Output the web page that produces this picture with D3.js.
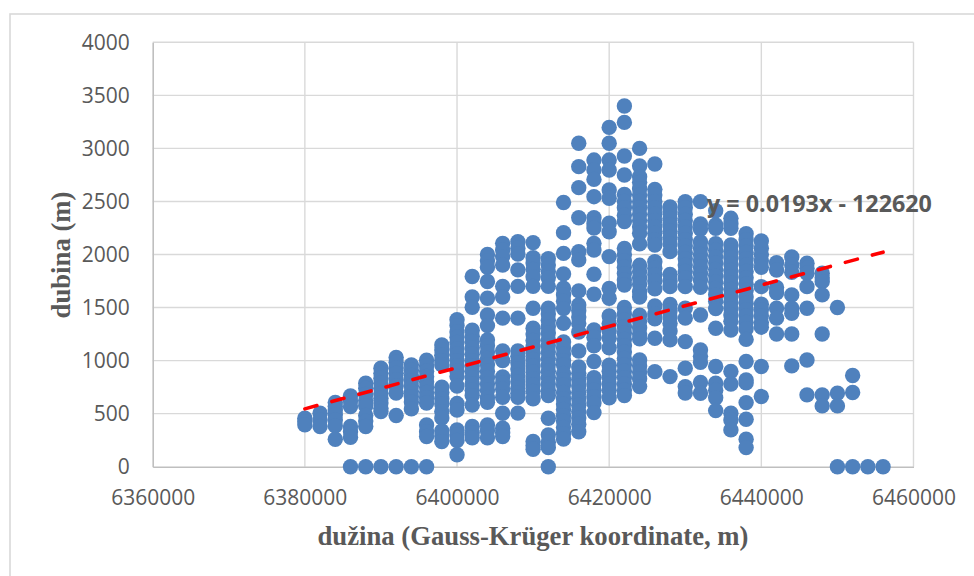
<!DOCTYPE html>
<html>

<head>
  <title>Dubina / duzina</title>
  <script src="https://cdn.jsdelivr.net/npm/d3@7"></script>
  <style>
    html, body { margin: 0; padding: 0; background: #fff; }
    svg { display: block; }
  </style>
</head>

<body>
  <script>
    // Size of page and plot area
    const w = 974;
    const h = 576;
    const plot = { left: 152.7, right: 913.5, top: 42.3, bottom: 466.7 };

    // Axis values
    const xTicks = [6360000, 6380000, 6400000, 6420000, 6440000, 6460000];
    const yTicks = [0, 500, 1000, 1500, 2000, 2500, 3000, 3500, 4000];

    // The wells stand in columns, every 2000 m along the x axis
    const duzina = [
      6380000, 6382000, 6384000, 6386000, 6388000, 6390000, 6392000, 6394000, 6396000, 6398000,
      6400000, 6402000, 6404000, 6406000, 6408000, 6410000, 6412000, 6414000, 6416000, 6418000,
      6420000, 6422000, 6424000, 6426000, 6428000, 6430000, 6432000, 6434000, 6436000, 6438000,
      6440000, 6442000, 6444000, 6446000, 6448000, 6450000, 6452000, 6454000, 6456000
    ];

    // Depths read per column, same order as duzina
    const dubina = [
      [457, 425, 394],
      [504, 441, 379],
      [605, 570, 535, 490, 440, 385, 259],
      [668, 620, 567, 380, 330, 278, 0],
      [787, 740, 680, 625, 575, 482, 430, 379, 0],
      [928, 880, 834, 787, 740, 690, 645, 600, 550, 520, 0],
      [1030, 985, 930, 880, 820, 760, 693, 482, 0],
      [960, 910, 860, 810, 760, 710, 660, 610, 545, 0],
      [1003, 950, 900, 850, 800, 750, 700, 650, 600, 394, 330, 284, 0],
      [1148, 1100, 1050, 1000, 960, 750, 700, 640, 590, 520, 460, 338, 290, 237],
      [1386, 1330, 1270, 1220, 1170, 1110, 1060, 1000, 950, 900, 850, 760, 595, 535, 347, 300, 247, 112],
      [1792, 1600, 1503, 1286, 1230, 1180, 1120, 1060, 1000, 950, 900, 840, 780, 720, 670, 580, 379, 320, 272],
      [2000, 1940, 1880, 1745, 1587, 1430, 1330, 1195, 1140, 1080, 1020, 960, 900, 840, 780, 720, 650, 608, 394, 340, 272],
      [2105, 2043, 1980, 1900, 1700, 1600, 1400, 1092, 1000, 846, 790, 730, 655, 504, 363, 320, 284],
      [2121, 2060, 2005, 1855, 1700, 1400, 1091, 1040, 980, 920, 860, 800, 740, 692, 655, 505],
      [2112, 1970, 1920, 1860, 1790, 1700, 1493, 1305, 1250, 1190, 1130, 1070, 1010, 950, 890, 830, 770, 710, 640, 237, 200, 165],
      [1961, 1900, 1840, 1780, 1700, 1493, 1440, 1380, 1320, 1260, 1200, 1140, 1080, 1020, 960, 900, 840, 780, 720, 670, 457, 300, 230, 180, 0],
      [2490, 2206, 2011, 1817, 1682, 1620, 1560, 1490, 1352, 1176, 1120, 1060, 1000, 960, 880, 820, 770, 700, 640, 590, 540, 480, 430, 370, 310, 260],
      [3048, 2828, 2630, 2347, 2027, 1949, 1657, 1525, 1470, 1410, 1350, 1270, 1091, 940, 880, 820, 760, 700, 640, 580, 520, 460, 400, 330],
      [2890, 2796, 2708, 2545, 2347, 2290, 2250, 2105, 2043, 1814, 1625, 1289, 1220, 1140, 991, 840, 780, 720, 660, 600, 510],
      [3198, 3048, 2890, 2796, 2608, 2530, 2294, 2215, 1980, 1680, 1587, 1420, 1350, 1280, 1210, 1120, 956, 900, 840, 780, 720, 650],
      [3400, 3245, 2928, 2749, 2567, 2500, 2440, 2370, 2310, 2058, 2000, 1940, 1880, 1820, 1760, 1713, 1500, 1440, 1380, 1320, 1260, 1200, 1140, 1080, 1020, 960, 900, 840, 780, 720, 670],
      [3000, 2834, 2733, 2680, 2620, 2560, 2500, 2440, 2380, 2320, 2260, 2200, 2100, 1898, 1840, 1780, 1720, 1650, 1600, 1427, 1370, 1310, 1250, 1205, 1006, 950, 890, 830, 755],
      [2853, 2614, 2560, 2500, 2440, 2380, 2320, 2260, 2200, 2140, 2090, 1932, 1870, 1810, 1750, 1676, 1515, 1440, 1393, 1210, 896],
      [2448, 2400, 2340, 2280, 2220, 2160, 2100, 2027, 1813, 1750, 1697, 1530, 1470, 1410, 1350, 1280, 1195, 849],
      [2498, 2440, 2380, 2320, 2260, 2200, 2140, 2080, 2020, 1960, 1900, 1840, 1780, 1697, 1493, 1400, 1179, 928, 755, 695],
      [2498, 2288, 2240, 2118, 2060, 2000, 1940, 1880, 1820, 1760, 1690, 1430, 1100, 1040, 985, 793, 692],
      [2413, 2278, 2247, 2102, 2040, 1980, 1920, 1860, 1800, 1740, 1680, 1620, 1560, 1490, 1305, 944, 786, 720, 650, 529],
      [2341, 2290, 2247, 2090, 2030, 1970, 1910, 1850, 1790, 1730, 1670, 1610, 1550, 1490, 1430, 1370, 1289, 897, 780, 504, 440, 347],
      [2196, 2140, 2080, 2020, 1960, 1900, 1840, 1780, 1720, 1660, 1600, 1540, 1480, 1420, 1360, 1300, 1200, 991, 818, 790, 604, 447, 259, 180],
      [2127, 2060, 2000, 1940, 1880, 1697, 1531, 1480, 1420, 1360, 1315, 944, 661],
      [1923, 1854, 1690, 1640, 1493, 1400, 1251],
      [1977, 1900, 1832, 1619, 1493, 1446, 1251, 950],
      [1917, 1870, 1823, 1697, 1493, 1006, 677],
      [1823, 1780, 1744, 1619, 1251, 677, 573],
      [1500, 692, 573, 0],
      [859, 699, 0],
      [0],
      [0]
    ];

    // Trend line ends, as drawn in the picture
    const trendX = [6380000, 6456000];
    const trendY = [545, 2022];

    const xScale = d3.scaleLinear()
      .domain([6360000, 6460000])
      .range([plot.left, plot.right]);
    const yScale = d3.scaleLinear()
      .domain([0, 4000])
      .range([plot.bottom, plot.top]);

    const svg = d3.select("body")
      .append("svg")
      .attr("width", w)
      .attr("height", h);

    // Chart frame, only its top and left edge fall inside the page
    svg.append("rect")
      .attr("x", 10)
      .attr("y", 14)
      .attr("width", 975)
      .attr("height", 580)
      .attr("fill", "#fff")
      .attr("stroke", "#d9d9d9")
      .attr("stroke-width", 1.6);

    // Grid lines
    svg.append("g")
      .selectAll("line")
      .data(yTicks.slice(1))
      .enter()
      .append("line")
      .attr("x1", plot.left)
      .attr("x2", plot.right)
      .attr("y1", function (d) { return yScale(d); })
      .attr("y2", function (d) { return yScale(d); })
      .attr("stroke", "#d9d9d9")
      .attr("stroke-width", 1.4);

    svg.append("g")
      .selectAll("line")
      .data(xTicks.slice(1))
      .enter()
      .append("line")
      .attr("x1", function (d) { return xScale(d); })
      .attr("x2", function (d) { return xScale(d); })
      .attr("y1", plot.top)
      .attr("y2", plot.bottom)
      .attr("stroke", "#d9d9d9")
      .attr("stroke-width", 1.4);

    // Axes
    const xAxis = d3.axisBottom(xScale)
      .tickValues(xTicks)
      .tickFormat(d3.format("d"))
      .tickSize(0)
      .tickSizeOuter(0)
      .tickPadding(23);
    const yAxis = d3.axisLeft(yScale)
      .tickValues(yTicks)
      .tickFormat(d3.format("d"))
      .tickSize(0)
      .tickSizeOuter(0)
      .tickPadding(23);

    const gx = svg.append("g")
      .attr("transform", "translate(0," + plot.bottom + ")")
      .call(xAxis);
    const gy = svg.append("g")
      .attr("transform", "translate(" + plot.left + ",0)")
      .call(yAxis);

    [gx, gy].forEach(function (g) {
      g.select(".domain")
        .attr("stroke", "#bfbfbf")
        .attr("stroke-width", 1.6);
      g.selectAll("text")
        .attr("fill", "#595959")
        .style("font-family", "'Open Sans', sans-serif")
        .style("font-size", "21px");
    });

    // Points, one column at a time
    const points = d3.merge(duzina.map(function (x, i) {
      return dubina[i].map(function (y) { return [x, y]; });
    }));

    svg.append("g")
      .selectAll("circle")
      .data(points)
      .enter()
      .append("circle")
      .attr("cx", function (d) { return xScale(d[0]); })
      .attr("cy", function (d) { return yScale(d[1]); })
      .attr("r", 7.7)
      .attr("fill", "#4f81bd");

    // Trend line
    const line = d3.line()
      .x(function (d) { return xScale(d); })
      .y(function (d, i) { return yScale(trendY[i]); });

    svg.append("path")
      .attr("d", line(trendX))
      .attr("fill", "none")
      .attr("stroke", "#ff0000")
      .attr("stroke-width", 3.6)
      .attr("stroke-linecap", "round")
      .attr("stroke-dasharray", "12.5 15.5");

    // Trend equation
    svg.append("text")
      .attr("x", 707)
      .attr("y", 212)
      .attr("fill", "#595959")
      .style("font-family", "'Open Sans', sans-serif")
      .style("font-weight", "bold")
      .style("font-size", "23.3px")
      .text("y = 0.0193x - 122620");

    // Axis titles
    svg.append("text")
      .attr("x", 533)
      .attr("y", 545)
      .attr("text-anchor", "middle")
      .attr("fill", "#595959")
      .style("font-family", "'Liberation Serif', serif")
      .style("font-weight", "bold")
      .style("font-size", "26.7px")
      .text("dužina (Gauss-Krüger koordinate, m)");

    svg.append("text")
      .attr("transform", "translate(70,255) rotate(-90)")
      .attr("text-anchor", "middle")
      .attr("fill", "#595959")
      .style("font-family", "'Liberation Serif', serif")
      .style("font-weight", "bold")
      .style("font-size", "26.7px")
      .text("dubina (m)");
  </script>
</body>

</html>
